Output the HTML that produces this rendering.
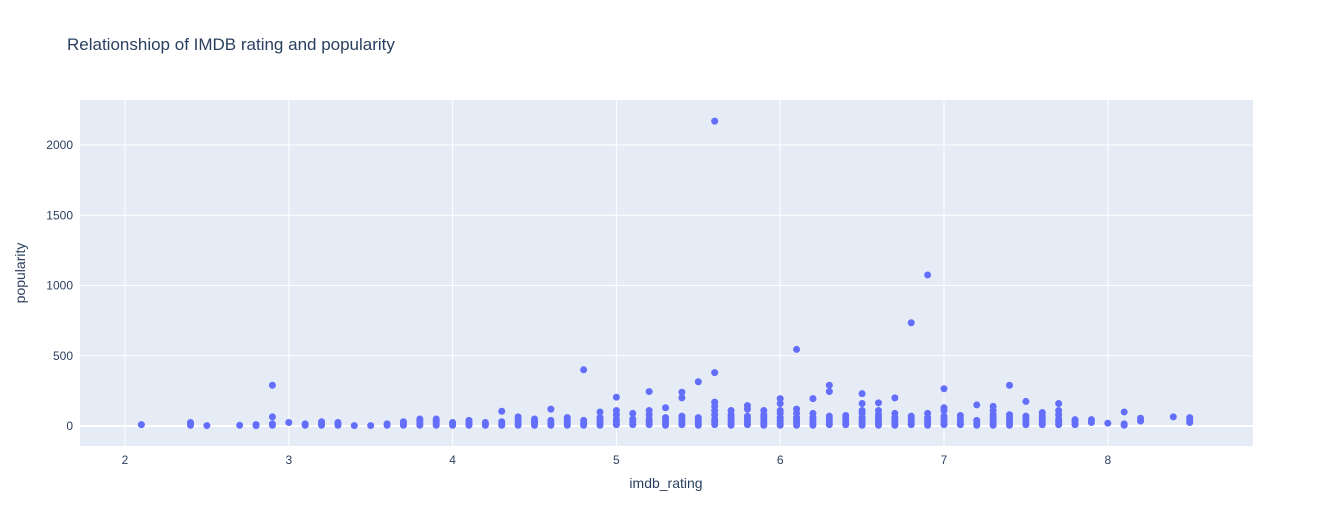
<!DOCTYPE html>
<html><head><meta charset="utf-8"><style>
body{margin:0;background:#fff;font-family:"Liberation Sans",Arial,sans-serif}
svg text{fill:#2a3f5f;font-family:"Liberation Sans",Arial,sans-serif}
</style></head><body>
<svg id="chart" width="1333" height="527">
<text x="67" y="50" font-size="17">Relationshiop of IMDB rating and popularity</text>
<rect x="80" y="100" width="1173" height="346" fill="#e5ecf6"/>
<g id="grid"></g><g id="pts"></g>
<text x="666" y="488" font-size="14" text-anchor="middle">imdb_rating</text>
<text transform="translate(25,273) rotate(-90)" font-size="14" text-anchor="middle">popularity</text>
</svg>
<script>
const xTicks=[2,3,4,5,6,7,8];
const yTicks=[0,500,1000,1500,2000];
const colRatings=[2.1,2.4,2.5,2.7,2.8,2.9,3.0,3.1,3.2,3.3,3.4,3.5,3.6,3.7,3.8,3.9,4.0,4.1,4.2,4.3,4.4,4.5,4.6,4.7,4.8,4.9,5.0,5.1,5.2,5.3,5.4,5.5,5.6,5.7,5.8,5.9,6.0,6.1,6.2,6.3,6.4,6.5,6.6,6.7,6.8,6.9,7.0,7.1,7.2,7.3,7.4,7.5,7.6,7.7,7.8,7.9,8.0,8.1,8.2,8.4,8.5];
const colValues=[[10],[5,15,25],[3],[5],[3,10],[290,65,15,5],[25],[5,15],[5,15,30],[5,15,25],[3],[3],[5,15],[5,15,30],[5,20,35,50],[5,20,35,50],[5,15,25],[5,15,30,40],[5,15,25],[105,30,15,5],[65,40,20,5],[5,20,35,50],[120,40,20,5],[5,20,40,60],[400,40,20,5],[100,60,40,20,5],[205,110,80,50,30,10],[90,50,30,10],[245,110,80,50,30,10],[130,60,40,20,5],[240,200,70,50,30,10],[315,60,40,20,5],[2170,380,170,140,110,80,50,30,10],[110,80,60,40,20,5],[145,120,70,50,30,10],[110,80,60,40,20,5],[195,160,110,90,60,40,20,5],[545,120,90,60,40,20,5],[195,90,60,40,20,5],[290,245,70,50,30,10],[75,50,30,10],[230,160,110,90,60,40,20,5],[165,110,80,60,40,20,5],[200,90,60,40,20,5],[735,70,50,30,10],[1075,90,60,40,20,5],[265,130,110,70,50,30,10],[75,50,30,10],[150,40,20,5],[140,110,80,60,40,20,5],[290,80,60,40,20,5],[175,70,50,30,10],[95,70,50,30,10],[160,110,80,50,30,10],[45,30,10],[45,25],[20],[100,15,5],[55,35],[65],[60,45,25]];
const NS='http://www.w3.org/2000/svg';
const xs=v=>125+(v-2)*163.8;
const ys=v=>426-v*0.1405;
const grid=document.getElementById('grid'),pts=document.getElementById('pts');
function mk(t,a,p){const e=document.createElementNS(NS,t);for(const k in a)e.setAttribute(k,a[k]);p.appendChild(e);return e;}
xTicks.forEach(t=>{
 const l=mk('line',{x1:xs(t),x2:xs(t),y1:100,y2:446,stroke:'#fff','stroke-width':1},grid);
 
 
 const tx=mk('text',{x:xs(t),y:464,'font-size':12,'text-anchor':'middle'},grid);tx.textContent=t;
 
 
});
yTicks.forEach(t=>{
 const l=mk('line',{x1:80,x2:1253,y1:ys(t),y2:ys(t),stroke:'#fff','stroke-width':t===0?2:1},grid);
 
 
 const tx=mk('text',{x:73,y:ys(t)+4,'font-size':12,'text-anchor':'end'},grid);tx.textContent=t;
 
 
});
colRatings.forEach((r,i)=>{
 colValues[i].forEach(v=>{
  const c=mk('circle',{cx:xs(r),cy:ys(v),r:3.5,fill:'#636efa'},pts);
  
  
 });
});
</script>
</body></html>
